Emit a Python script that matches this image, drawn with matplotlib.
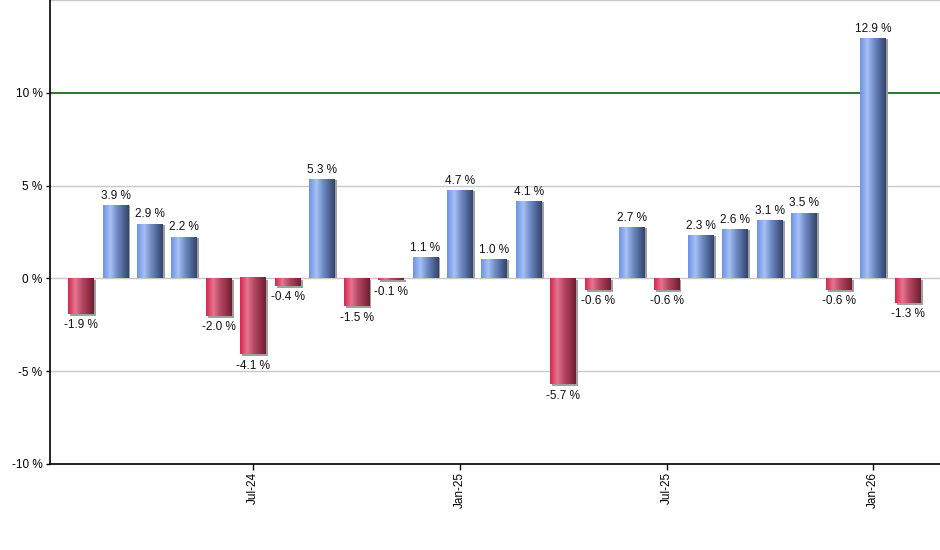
import matplotlib
matplotlib.use("Agg")
import matplotlib.pyplot as plt
import numpy as np
from matplotlib.colors import LinearSegmentedColormap

months = ["Feb-24","Mar-24","Apr-24","May-24","Jun-24","Jul-24","Aug-24","Sep-24","Oct-24","Nov-24","Dec-24",
          "Jan-25","Feb-25","Mar-25","Apr-25","May-25","Jun-25","Jul-25","Aug-25","Sep-25","Oct-25","Nov-25","Dec-25",
          "Jan-26","Feb-26"]
values = [-1.9, 3.9, 2.9, 2.2, -2.0, -4.1, -0.4, 5.3, -1.5, -0.1, 1.1,
          4.7, 1.0, 4.1, -5.7, -0.6, 2.7, -0.6, 2.3, 2.6, 3.1, 3.5, -0.6,
          12.9, -1.3]
tick_labels = ["Jul-24", "Jan-25", "Jul-25", "Jan-26"]
yticks = [-10, -5, 0, 5, 10]

plt.rcParams["font.family"] = ["Liberation Sans", "DejaVu Sans"]

blue_cmap = LinearSegmentedColormap.from_list("b", [(0, "#6f93e4"), (0.28, "#a7c1f6"), (0.55, "#6f8bc4"), (0.8, "#4d6394"), (1, "#34446a")])
red_cmap = LinearSegmentedColormap.from_list("r", [(0, "#d6284f"), (0.28, "#e67590"), (0.55, "#b44863"), (0.8, "#932f47"), (1, "#6e1f31")])

fig = plt.figure(figsize=(9.4, 5.5), dpi=100)
ax = fig.add_axes([49.5/940, 1-464/550, 1-49.5/940, 464/550])

x = np.arange(len(values))
w = 0.75
grad = np.linspace(0, 1, 64).reshape(1, -1)

for yt in [-5, 0, 5, 15]:
    ax.axhline(yt, color="#c8c8c8", lw=1, zorder=0)
ax.axhline(10, color="#006400", lw=1.2, zorder=0.5)

dx_shadow = 2/34.43
dy_shadow = 2/18.55
for xi, v in zip(x, values):
    lo, hi = min(0, v), max(0, v)
    ax.add_patch(plt.Rectangle((xi - w/2 + dx_shadow, lo - (dy_shadow if v < 0 else 0)), w, hi - lo,
                               facecolor="#a0a0a0", edgecolor="none", zorder=1))
    cmap = blue_cmap if v >= 0 else red_cmap
    ax.imshow(grad, cmap=cmap, extent=[xi - w/2, xi + w/2, lo, hi], aspect="auto",
              interpolation="bilinear", zorder=2)
    label = f"{v:.1f} %"
    if v >= 0:
        ax.annotate(label, (xi, v), xytext=(0, 3), textcoords="offset points",
                    ha="center", va="bottom", fontsize=8.5, color="#111111")
    else:
        ax.annotate(label, (xi, v), xytext=(0, -4), textcoords="offset points",
                    ha="center", va="top", fontsize=8.5, color="#111111")

ax.set_xlim(-0.915, 24.94)
ax.set_ylim(-10, 15)

ax.set_yticks(yticks)
ax.set_yticklabels([f"{t} %" for t in yticks], fontsize=8.5)
tick_pos = [months.index(t) for t in tick_labels]
ax.set_xticks(tick_pos)
ax.set_xticklabels(tick_labels, rotation=90, fontsize=8.5)
ax.tick_params(axis="y", length=3, width=1, pad=2)
ax.tick_params(axis="x", length=4, width=1, pad=2)

for s in ["top", "right"]:
    ax.spines[s].set_visible(False)
ax.spines["left"].set_linewidth(1.2)
ax.spines["bottom"].set_linewidth(1.2)

fig.savefig("out.png", dpi=100)
